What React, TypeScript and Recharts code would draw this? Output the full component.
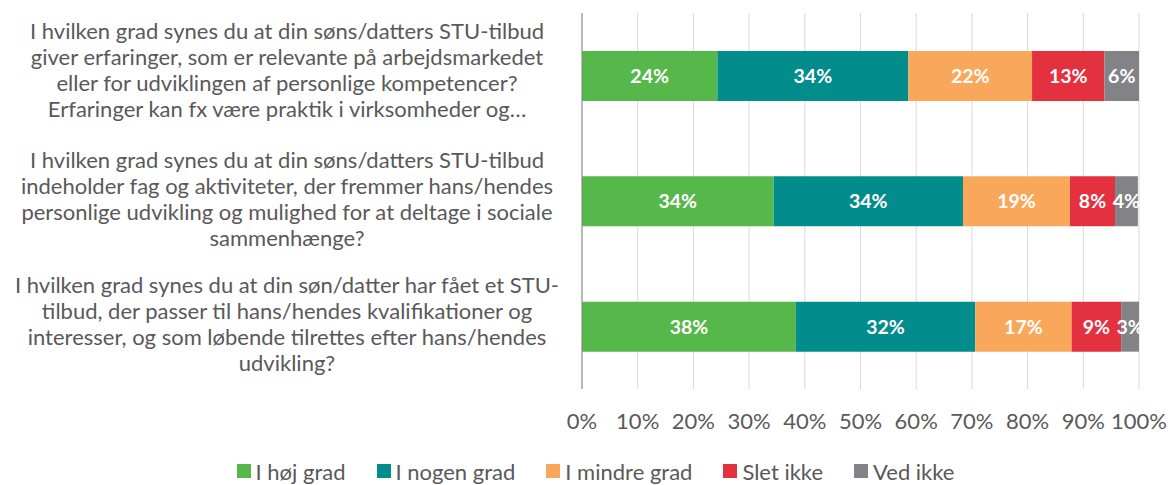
import { BarChart, Bar, XAxis, YAxis, CartesianGrid, Legend, LabelList } from 'recharts';

// Survey questions, wrapped as in the original chart
const questions: string[][] = [
  [
    'I hvilken grad synes du at din søns/datters STU-tilbud',
    'giver erfaringer, som er relevante på arbejdsmarkedet',
    'eller for udviklingen af personlige kompetencer?',
    'Erfaringer kan fx være praktik i virksomheder og…',
  ],
  [
    'I hvilken grad synes du at din søns/datters STU-tilbud',
    'indeholder fag og aktiviteter, der fremmer hans/hendes',
    'personlige udvikling og mulighed for at deltage i sociale',
    'sammenhænge?',
  ],
  [
    'I hvilken grad synes du at din søn/datter har fået et STU-',
    'tilbud, der passer til hans/hendes kvalifikationer og',
    'interesser, og som løbende tilrettes efter hans/hendes',
    'udvikling?',
  ],
];

const seriesNames = ['I høj grad', 'I nogen grad', 'I mindre grad', 'Slet ikke', 'Ved ikke'];
const seriesColors = ['#56b84a', '#038c8c', '#f9a85b', '#e3313f', '#838387'];

const hojGrad = [24.3, 34.4, 38.4];
const nogenGrad = [34.3, 34.0, 32.2];
const mindreGrad = [22.2, 19.2, 17.3];
const sletIkke = [13.0, 8.1, 8.9];
const vedIkke = [6.2, 4.1, 3.2];

const xTicks = [0, 10, 20, 30, 40, 50, 60, 70, 80, 90, 100];

const seriesValues = [hojGrad, nogenGrad, mindreGrad, sletIkke, vedIkke];
const keys = ['s0', 's1', 's2', 's3', 's4'];

const chartData = questions.map((q, i) => {
  const row: Record<string, any> = { name: String(i) };
  keys.forEach((k, s) => {
    row[k] = seriesValues[s][i];
  });
  return row;
});

const FONT = 'Lato, "Open Sans", sans-serif';
const TEXT = '#595959';
const LABEL_X = 287;

function QuestionTick(props: any) {
  const { y, payload } = props;
  const idx = Number(payload.value);
  const lines = questions[idx];
  const lineH = 26;
  const shift = idx === 0 ? -6 : -3;
  const startY = y + shift - ((lines.length - 1) * lineH) / 2;
  return (
    <text x={LABEL_X} y={startY} textAnchor="middle" fill={TEXT} fontSize={22} fontFamily={FONT}>
      {lines.map((l, i) => (
        <tspan key={i} x={LABEL_X} y={startY + i * lineH} dominantBaseline="central">
          {l}
        </tspan>
      ))}
    </text>
  );
}

function PercentTick(props: any) {
  const { x, y, payload } = props;
  return (
    <text x={x} y={y} dy={23} textAnchor="middle" dominantBaseline="central" fill={TEXT} fontSize={22} fontFamily={FONT}>
      {`${payload.value}%`}
    </text>
  );
}

function LegendContent() {
  return (
    <div
      style={{
        height: 28,
        display: 'flex',
        justifyContent: 'center',
        alignItems: 'center',
        fontFamily: FONT,
        fontSize: 22,
        color: TEXT,
        paddingLeft: 52,
      }}
    >
      {seriesNames.map((n, i) => (
        <div
          key={n}
          style={{ display: 'flex', alignItems: 'center', marginRight: i < seriesNames.length - 1 ? 31 : 0 }}
        >
          <span style={{ width: 14, height: 14, background: seriesColors[i], marginRight: 5, display: 'inline-block' }} />
          <span>{n}</span>
        </div>
      ))}
    </div>
  );
}

export default function App() {
  return (
    <div style={{ position: 'absolute', left: 0, top: 0, background: '#fff' }}>
      <BarChart
        width={1172}
        height={485}
        data={chartData}
        layout="vertical"
        margin={{ top: 13, right: 33, left: 0, bottom: 0 }}
        barSize={50}
      >
        <CartesianGrid horizontal={false} stroke="#d9d9d9" />
        <XAxis
          type="number"
          domain={[0, 100]}
          ticks={xTicks}
          axisLine={false}
          tickLine={false}
          tick={<PercentTick />}
          height={68}
          interval={0}
        />
        <YAxis
          type="category"
          dataKey="name"
          width={582}
          axisLine={{ stroke: '#868686' }}
          tickLine={false}
          tick={<QuestionTick />}
        />
        <Legend verticalAlign="bottom" content={<LegendContent />} />
        {keys.map((k, s) => (
          <Bar key={k} dataKey={k} stackId="a" fill={seriesColors[s]} name={seriesNames[s]} isAnimationActive={false}>
            <LabelList
              dataKey={k}
              position="center"
              fill="#fff"
              fontSize={19.5}
              fontWeight={700}
              fontFamily={FONT}
              formatter={(v: any) => `${Math.round(Number(v))}%`}
            />
          </Bar>
        ))}
      </BarChart>
    </div>
  );
}
